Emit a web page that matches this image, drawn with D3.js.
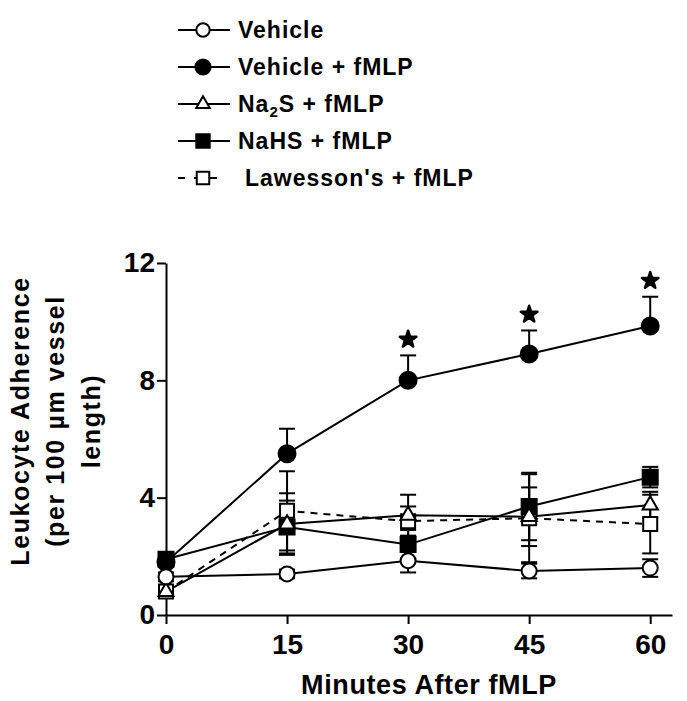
<!DOCTYPE html>
<html><head><meta charset="utf-8">
<script src="https://cdn.jsdelivr.net/npm/d3@7"></script>
<style>
body{margin:0;background:#fff}
svg{display:block}
text{font-family:"Liberation Sans",Arial,Helvetica,sans-serif;font-weight:bold;fill:#000}
</style>
</head><body><svg id="c" width="687" height="701"></svg>
<script>
// ---- data ----
const times = [0, 15, 30, 45, 60];
const xTicks = [0, 15, 30, 45, 60];
const yTicks = [0, 4, 8, 12];
const vehicle = [1.3, 1.4, 1.85, 1.5, 1.6];
const vehicleSE = [0.15, 0.15, 0.4, 0.25, 0.3];
const vehicleFmlp = [1.8, 5.5, 8.0, 8.9, 9.85];
const vehicleFmlpSE = [0.3, 0.85, 0.85, 0.8, 1.0];
const na2s = [0.8, 3.1, 3.4, 3.35, 3.75];
const na2sSE = [0.15, 1.05, 0.7, 1.0, 0.45];
const nahs = [1.9, 3.0, 2.4, 3.7, 4.7];
const nahsSE = [0.15, 0.9, 0.5, 1.15, 0.35];
const lawesson = [0.8, 3.55, 3.2, 3.3, 3.1];
const lawessonSE = [0.15, 1.35, 0.5, 1.5, 1.0];
const starTimes = [30, 45, 60];
const xTitle = "Minutes After fMLP";
const yTitleLines = ["Leukocyte Adherence", "(per 100 \u00b5m vessel", "length)"];

// ---- series table (built from the arrays), in drawing order ----
const series = [
  {key:"vehf", label:[["Vehicle + fMLP",""]], vals:vehicleFmlp, se:vehicleFmlpSE, sym:d3.symbolCircle, size:227, fill:"#000", dash:null, up:true, down:false},
  {key:"law", label:[["Lawesson's + fMLP",""]], vals:lawesson, se:lawessonSE, sym:d3.symbolSquare, size:196, fill:"#fff", dash:"7,6", up:true, down:true},
  {key:"nahs", label:[["NaHS + fMLP",""]], vals:nahs, se:nahsSE, sym:d3.symbolSquare, size:225, fill:"#000", dash:null, up:true, down:true},
  {key:"na2s", label:[["Na",""],["2","sub"],["S + fMLP",""]], vals:na2s, se:na2sSE, sym:d3.symbolTriangle, size:100, fill:"#fff", dash:null, up:true, down:true},
  {key:"veh", label:[["Vehicle",""]], vals:vehicle, se:vehicleSE, sym:d3.symbolCircle, size:177, fill:"#fff", dash:null, up:true, down:true}
];
const legendOrder = ["veh","vehf","na2s","nahs","law"];

const svg = d3.select("#c");
const x = d3.scaleLinear().domain([0, 62.7]).range([166, 672]);
const y = d3.scaleLinear().domain([0, 12]).range([615, 263]);

// ---- axes ----
const gx = svg.append("g").attr("transform", `translate(0,${y(0)})`)
  .call(d3.axisBottom(x).tickValues(xTicks).tickSize(9).tickSizeOuter(0).tickPadding(10));
const gy = svg.append("g").attr("transform", `translate(${x(0)},0)`)
  .call(d3.axisLeft(y).tickValues(yTicks).tickSize(9).tickSizeOuter(0).tickPadding(2));
[gx, gy].forEach(g => {
  g.select(".domain").attr("stroke", "#000").attr("stroke-width", 2);
  g.selectAll(".tick line").attr("stroke", "#000").attr("stroke-width", 2);
  g.selectAll(".tick text").style("font-size", "28px").attr("fill", "#000");
});
gx.selectAll(".tick text").attr("dy", "0.72em");

// axis titles
svg.append("text").attr("x", 429).attr("y", 694).attr("text-anchor", "middle")
  .style("font-size", "27px").style("letter-spacing", "0.6px").text(xTitle);
const yt = svg.append("g").attr("transform", "translate(0,421) rotate(-90)");
const ytX = [29, 64, 100];
yTitleLines.forEach((t, i) => {
  yt.append("text").attr("x", 0).attr("y", ytX[i]).attr("text-anchor", "middle")
    .style("font-size", "25px").style("letter-spacing", "1.6px").text(t);
});

// ---- lines ----
const line = d3.line().x((d, i) => x(times[i])).y(d => y(d));
series.forEach(s => {
  svg.append("path").datum(s.vals).attr("d", line)
    .attr("fill", "none").attr("stroke", "#000").attr("stroke-width", 2)
    .attr("stroke-dasharray", s.dash);
});

// ---- error bars ----
const capW = 8;
series.forEach(s => {
  s.vals.forEach((v, i) => {
    const cx = x(times[i]);
    const parts = [];
    if (s.up) parts.push(v + s.se[i]);
    if (s.down) parts.push(v - s.se[i]);
    parts.forEach(e => {
      svg.append("line").attr("x1", cx).attr("x2", cx).attr("y1", y(v)).attr("y2", y(e))
        .attr("stroke", "#000").attr("stroke-width", 2);
      svg.append("line").attr("x1", cx - capW).attr("x2", cx + capW).attr("y1", y(e)).attr("y2", y(e))
        .attr("stroke", "#000").attr("stroke-width", 2);
    });
  });
});

// ---- markers ----
series.forEach(s => {
  svg.append("g").selectAll("path").data(s.vals).join("path")
    .attr("transform", (d, i) => `translate(${x(times[i])},${y(d)})`)
    .attr("d", d3.symbol().type(s.sym).size(s.size)())
    .attr("fill", s.fill).attr("stroke", "#000").attr("stroke-width", 2);
});

// ---- significance stars ----
const vf = series.find(s => s.key === "vehf");
starTimes.forEach(t => {
  const i = times.indexOf(t);
  svg.append("path")
    .attr("transform", `translate(${x(t)},${y(vf.vals[i] + vf.se[i]) - 16})`)
    .attr("d", d3.symbol().type(d3.symbolStar).size(85)())
    .attr("fill", "#000").attr("stroke", "#000").attr("stroke-width", 2.5).attr("stroke-linejoin", "round");
});

// ---- legend ----
legendOrder.forEach((k, r) => {
  const s = series.find(d => d.key === k);
  const cy = 30 + r * 37;
  const g = svg.append("g");
  g.append("line").attr("x1", 178).attr("x2", s.dash ? 222 : 230).attr("y1", cy).attr("y2", cy)
    .attr("stroke", "#000").attr("stroke-width", 2).attr("stroke-dasharray", s.dash ? "7,9" : null);
  g.append("path").attr("transform", `translate(203,${cy})`)
    .attr("d", d3.symbol().type(s.sym).size(s.size * 0.8)())
    .attr("fill", s.fill).attr("stroke", "#000").attr("stroke-width", 2);
  const tx = g.append("text").attr("x", s.dash ? 245 : 238).attr("y", cy + 8)
    .style("font-size", "23px").style("letter-spacing", "1px");
  s.label.forEach(([txt, kind]) => {
    const sp = tx.append("tspan").text(txt);
    if (kind === "sub") sp.style("font-size", "15px").attr("dy", 5);
    else if (sp.node().previousSibling) sp.attr("dy", -5);
  });
});
</script>
</body></html>
